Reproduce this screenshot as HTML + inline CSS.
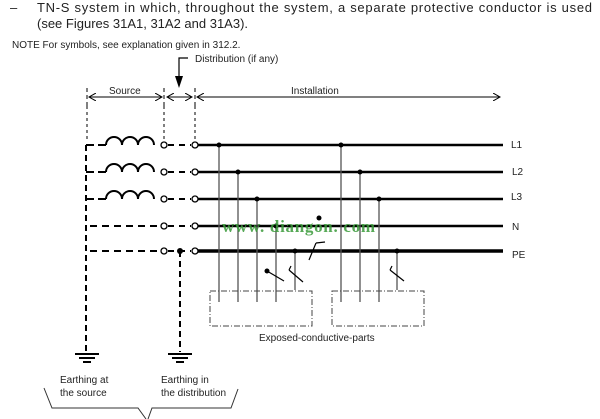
<!DOCTYPE html>
<html><head><meta charset="utf-8"><style>
body{margin:0;background:#fff;}
svg{display:block;font-family:"Liberation Sans",Arial,sans-serif;}
</style></head><body>
<svg width="600" height="419" viewBox="0 0 600 419" xmlns="http://www.w3.org/2000/svg">
<defs>
<marker id="a" markerWidth="8" markerHeight="8" refX="7" refY="4" orient="auto-start-reverse"><path d="M0,0 L7,4 L0,8" fill="none" stroke="#000" stroke-width="1"/></marker>
</defs>
<text x="10" y="12" font-size="13" fill="#222">–</text>
<text x="37" y="12" font-size="13" fill="#222" textLength="555">TN-S system in which, throughout the system, a separate protective conductor is used</text>
<text x="37" y="28" font-size="13" fill="#222">(see Figures 31A1, 31A2 and 31A3).</text>
<text x="12" y="48" font-size="10" fill="#222">NOTE  For symbols, see explanation given in 312.2.</text>
<!-- distribution arrow -->
<polyline points="188,58 179,58 179,80" fill="none" stroke="#000" stroke-width="1.2"/>
<path d="M175,76 L179,88 L183,76Z" fill="#000"/>
<text x="195" y="62" font-size="10" fill="#222">Distribution (if any)</text>
<!-- dimension row -->
<g stroke="#000" stroke-width="1" fill="none">
<line x1="87" y1="88" x2="87" y2="106" stroke-dasharray="4,3"/>
<line x1="164" y1="88" x2="164" y2="106" stroke-dasharray="4,3"/>
<line x1="195" y1="88" x2="195" y2="106" stroke-dasharray="4,3"/>
<line x1="89" y1="97" x2="162" y2="97" marker-start="url(#a)" marker-end="url(#a)"/>
<line x1="167" y1="97" x2="192" y2="97" marker-start="url(#a)" marker-end="url(#a)"/>
<line x1="197" y1="97" x2="500" y2="97" marker-start="url(#a)" marker-end="url(#a)"/>
</g>
<text x="109" y="94" font-size="10" fill="#222">Source</text>
<text x="291" y="94" font-size="10" fill="#222">Installation</text>
<!-- upper dashed verticals -->
<g stroke="#000" stroke-width="1" stroke-dasharray="3,3">
<line x1="164" y1="106" x2="164" y2="142"/>
<line x1="195" y1="106" x2="195" y2="142"/>
<line x1="87" y1="106" x2="87" y2="142"/>
</g>
<!-- source left dashed vertical -->
<line x1="86" y1="145" x2="86" y2="352" stroke="#000" stroke-width="2" stroke-dasharray="6,4"/>
<g stroke="#000" stroke-width="2" fill="none">
<path d="M86,145 h8 M98,145 h8 M106,145 a8,8 0 0 1 16,0 a8,8 0 0 1 16,0 a8,8 0 0 1 16,0"/>
<path d="M86,172 h8 M98,172 h8 M106,172 a8,8 0 0 1 16,0 a8,8 0 0 1 16,0 a8,8 0 0 1 16,0"/>
<path d="M86,199 h8 M98,199 h8 M106,199 a8,8 0 0 1 16,0 a8,8 0 0 1 16,0 a8,8 0 0 1 16,0"/>
<line x1="90" y1="226" x2="160" y2="226" stroke-dasharray="7,5"/>
<line x1="90" y1="251" x2="160" y2="251" stroke-dasharray="7,5"/>
</g>
<g stroke="#000" stroke-width="2" stroke-dasharray="6,5">
<line x1="168" y1="145" x2="191" y2="145"/>
<line x1="168" y1="172" x2="191" y2="172"/>
<line x1="168" y1="199" x2="191" y2="199"/>
<line x1="168" y1="226" x2="191" y2="226"/>
<line x1="168" y1="251" x2="191" y2="251"/>
</g>
<g stroke="#000">
<line x1="198" y1="145" x2="503" y2="145" stroke-width="2.5"/>
<line x1="198" y1="172" x2="503" y2="172" stroke-width="2.5"/>
<line x1="198" y1="199" x2="503" y2="199" stroke-width="2.5"/>
<line x1="198" y1="226" x2="503" y2="226" stroke-width="2.5"/>
<line x1="198" y1="251" x2="503" y2="251" stroke-width="3.5"/>
</g>
<g stroke="#000" stroke-width="1.3" fill="#fff">
<circle cx="164" cy="145" r="3"/><circle cx="195" cy="145" r="3"/>
<circle cx="164" cy="172" r="3"/><circle cx="195" cy="172" r="3"/>
<circle cx="164" cy="199" r="3"/><circle cx="195" cy="199" r="3"/>
<circle cx="164" cy="226" r="3"/><circle cx="195" cy="226" r="3"/>
<circle cx="164" cy="251" r="3"/><circle cx="195" cy="251" r="3"/>
</g>
<circle cx="180" cy="251" r="3" fill="#000"/>
<line x1="180" y1="251" x2="180" y2="352" stroke="#000" stroke-width="2" stroke-dasharray="6,4"/>
<g stroke="#555" stroke-width="1.3">
<line x1="219" y1="145" x2="219" y2="302"/>
<line x1="238" y1="172" x2="238" y2="302"/>
<line x1="257" y1="199" x2="257" y2="302"/>
<line x1="276" y1="226" x2="276" y2="302"/>
<line x1="341" y1="145" x2="341" y2="302"/>
<line x1="360" y1="172" x2="360" y2="302"/>
<line x1="379" y1="199" x2="379" y2="302"/>
<line x1="295" y1="251" x2="295" y2="290"/>
<line x1="397" y1="251" x2="397" y2="290"/>
</g>
<g fill="#000">
<circle cx="219" cy="145" r="2.5"/><circle cx="238" cy="172" r="2.5"/><circle cx="257" cy="199" r="2.5"/><circle cx="276" cy="226" r="2.5"/>
<circle cx="341" cy="145" r="2.5"/><circle cx="360" cy="172" r="2.5"/><circle cx="379" cy="199" r="2.5"/>
<circle cx="295" cy="251" r="2.5"/><circle cx="397" cy="251" r="2.5"/>
<circle cx="319" cy="218" r="2.5"/><circle cx="267" cy="271" r="2.5"/>
</g>
<g stroke="#000" stroke-width="1.2" fill="none">
<line x1="267" y1="271" x2="284" y2="281"/>
<line x1="289" y1="270" x2="303" y2="282"/><line x1="289" y1="270" x2="291" y2="266"/>
<line x1="390" y1="270" x2="404" y2="281"/><line x1="390" y1="270" x2="392" y2="266"/>
<line x1="309" y1="260" x2="316" y2="243"/><line x1="316" y1="243" x2="325" y2="242"/>
</g>
<g stroke="#444" stroke-width="1" fill="none" stroke-dasharray="6,2,1,2">
<rect x="210" y="291" width="102" height="35"/>
<rect x="332" y="291" width="92" height="35"/>
</g>
<text x="259" y="341" font-size="10" fill="#222">Exposed-conductive-parts</text>
<text x="222" y="232" font-size="17" font-weight="bold" fill="#3a9a3a" fill-opacity="0.85" font-family="Liberation Serif,serif" textLength="153">www. diangon. com</text>
<g font-size="10" fill="#222">
<text x="511" y="148">L1</text><text x="512" y="175">L2</text><text x="511" y="200">L3</text>
<text x="512" y="230">N</text><text x="512" y="258">PE</text>
</g>
<g stroke="#000">
<line x1="75" y1="354" x2="99" y2="354" stroke-width="2"/>
<line x1="79" y1="358" x2="95" y2="358" stroke-width="2"/>
<line x1="83" y1="362" x2="91" y2="362" stroke-width="2"/>
<line x1="168" y1="354" x2="192" y2="354" stroke-width="2"/>
<line x1="172" y1="358" x2="188" y2="358" stroke-width="2"/>
<line x1="176" y1="362" x2="184" y2="362" stroke-width="2"/>
</g>
<g font-size="10" fill="#222">
<text x="60" y="383">Earthing at</text><text x="60" y="396">the source</text>
<text x="161" y="383">Earthing in</text><text x="161" y="396">the distribution</text>
</g>
<polyline points="44,388 52,408 138,408 146,419" fill="none" stroke="#333" stroke-width="1"/>
<polyline points="148,419 152,408 231,408 238,389" fill="none" stroke="#333" stroke-width="1"/>
</svg>
</body></html>
